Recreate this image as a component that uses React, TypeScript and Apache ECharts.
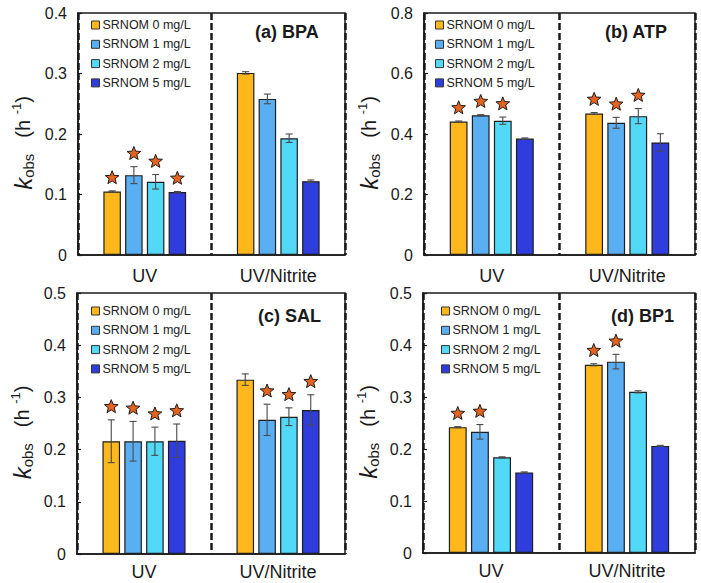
import React, { useEffect, useRef } from "react";
import * as echarts from "echarts";

const categories = ["UV", "UV/Nitrite"];
const seriesNames = ["SRNOM 0 mg/L", "SRNOM 1 mg/L", "SRNOM 2 mg/L", "SRNOM 5 mg/L"];
const colors = ["#FFB81C", "#5AAFF2", "#52D9F8", "#2E3DDB"];

// values[series][category]
const bpaValues = [[0.105, 0.301], [0.132, 0.258], [0.121, 0.193], [0.104, 0.122]];
const bpaErrors = [[0.001, 0.002], [0.014, 0.008], [0.012, 0.007], [0.001, 0.002]];
const bpaStars = [[1, 0], [1, 0], [1, 0], [1, 0]];

const atpValues = [[0.441, 0.468], [0.462, 0.437], [0.444, 0.459], [0.385, 0.372]];
const atpErrors = [[0.002, 0.003], [0.002, 0.018], [0.012, 0.025], [0.002, 0.029]];
const atpStars = [[1, 1], [1, 1], [1, 1], [0, 0]];

const salValues = [[0.216, 0.334], [0.216, 0.257], [0.216, 0.263], [0.217, 0.276]];
const salErrors = [[0.041, 0.011], [0.038, 0.030], [0.027, 0.017], [0.032, 0.029]];
const salStars = [[1, 0], [1, 1], [1, 1], [1, 1]];

const bp1Values = [[0.242, 0.362], [0.233, 0.368], [0.184, 0.310], [0.155, 0.206]];
const bp1Errors = [[0.001, 0.002], [0.014, 0.014], [0.001, 0.002], [0.001, 0.001]];
const bp1Stars = [[1, 1], [1, 1], [0, 0], [0, 0]];

const panelTitles = ["(a) BPA", "(b) ATP", "(c) SAL", "(d) BP1"];
const yMax = [0.4, 0.8, 0.5, 0.5];
const yStep = [0.1, 0.2, 0.1, 0.1];

const panels = [
  { values: bpaValues, errors: bpaErrors, stars: bpaStars },
  { values: atpValues, errors: atpErrors, stars: atpStars },
  { values: salValues, errors: salErrors, stars: salStars },
  { values: bp1Values, errors: bp1Errors, stars: bp1Stars },
];

const FONT = "'Liberation Sans', Arial, sans-serif";
const CAT_GAP = 0.38;
const BAR_GAP = 0.24;

const grids = [
  { left: 78, top: 13, width: 267, height: 242 },
  { left: 424, top: 13, width: 271, height: 242 },
  { left: 77, top: 293, width: 268, height: 261 },
  { left: 423, top: 293, width: 272, height: 260 },
];
const legendPos = [
  { left: 91, top: 18 },
  { left: 435, top: 18 },
  { left: 91, top: 304 },
  { left: 441, top: 304 },
];
const titlePos = [
  { left: 255, top: 23 },
  { left: 605, top: 23 },
  { left: 258, top: 307 },
  { left: 611, top: 307 },
];

function starPoints(cx: number, cy: number, R: number, r: number) {
  const pts: number[][] = [];
  for (let i = 0; i < 10; i++) {
    const rad = i % 2 === 0 ? R : r;
    const a = -Math.PI / 2 + (i * Math.PI) / 5;
    pts.push([cx + rad * Math.cos(a), cy + rad * Math.sin(a)]);
  }
  return pts;
}

function makeRender(si: number) {
  return (params: any, api: any) => {
    const ci = api.value(0);
    const v = api.value(1);
    const e = api.value(2);
    const s = api.value(3);
    const band = api.size([1, 0])[0];
    const gw = band * (1 - CAT_GAP);
    const n = 4;
    const bw = gw / (n + (n - 1) * BAR_GAP);
    const cx = api.coord([ci, 0])[0] - gw / 2 + bw / 2 + si * bw * (1 + BAR_GAP);
    const yt = api.coord([ci, v + e])[1];
    const yb = api.coord([ci, v - e])[1];
    const cap = 3.5;
    const st = { stroke: "#4a4a4a", lineWidth: 1.1 };
    const children: any[] = [
      { type: "line", shape: { x1: cx, y1: yt, x2: cx, y2: yb }, style: st },
      { type: "line", shape: { x1: cx - cap, y1: yt, x2: cx + cap, y2: yt }, style: st },
      { type: "line", shape: { x1: cx - cap, y1: yb, x2: cx + cap, y2: yb }, style: st },
    ];
    if (s) {
      children.push({
        type: "polygon",
        shape: { points: starPoints(cx, yt - 13, 7.2, 3.1) },
        style: { fill: "#E5621F", stroke: "#1e1e1e", lineWidth: 1 },
      });
    }
    return { type: "group", children };
  };
}

function buildOption() {
  const series: any[] = [];
  panels.forEach((p, pi) => {
    for (let si = 0; si < 4; si++) {
      series.push({
        type: "bar",
        name: seriesNames[si],
        xAxisIndex: pi,
        yAxisIndex: pi,
        data: p.values[si],
        barCategoryGap: `${CAT_GAP * 100}%`,
        barGap: `${BAR_GAP * 100}%`,
        itemStyle: { color: colors[si], borderColor: "#1e1e1e", borderWidth: 1.2 },
      });
    }
    for (let si = 0; si < 4; si++) {
      series.push({
        type: "custom",
        xAxisIndex: pi,
        yAxisIndex: pi,
        clip: false,
        z: 5,
        renderItem: makeRender(si),
        encode: { x: 0, y: 1 },
        data: categories.map((_, ci) => [ci, p.values[si][ci], p.errors[si][ci], p.stars[si][ci]]),
      });
    }
  });

  const yName = "{k|k}{s|obs}{g|}{p|(h }{u|-1}{p|)}";
  const yRich = {
    k: { fontSize: 24, fontStyle: "italic", fontFamily: FONT, color: "#1a1a1a", verticalAlign: "middle" },
    s: { fontSize: 15, fontFamily: FONT, color: "#1a1a1a", verticalAlign: "bottom", padding: [11, 0, 0, 0] },
    g: { width: 16 },
    p: { fontSize: 20, fontFamily: FONT, color: "#1a1a1a", verticalAlign: "middle" },
    u: { fontSize: 13, fontFamily: FONT, color: "#1a1a1a", verticalAlign: "top", padding: [0, 0, 11, 0] },
  };

  return {
    animation: false,
    backgroundColor: "#ffffff",
    textStyle: { fontFamily: FONT },
    title: panelTitles.map((t, i) => ({
      text: t,
      left: titlePos[i].left,
      top: titlePos[i].top,
      padding: 0,
      textStyle: { fontSize: 18, fontWeight: "bold", fontFamily: FONT, color: "#1a1a1a" },
    })),
    legend: legendPos.map((lp) => ({
      data: seriesNames,
      orient: "vertical",
      left: lp.left,
      top: lp.top,
      padding: 0,
      itemGap: 5.3,
      itemWidth: 8,
      itemHeight: 8,
      icon: "rect",
      selectedMode: false,
      itemStyle: { borderColor: "#333", borderWidth: 1 },
      textStyle: { fontSize: 12.5, fontFamily: FONT, color: "#222", lineHeight: 14, padding: [0, 0, 0, -2] },
    })),
    grid: grids.map((g) => ({ ...g, show: true, borderColor: "#1a1a1a", borderWidth: 1.5, backgroundColor: "transparent" })),
    xAxis: grids.map((_, i) => ({
      type: "category",
      gridIndex: i,
      data: categories,
      axisLine: { lineStyle: { color: "#1a1a1a", width: 1.5 } },
      axisTick: { show: false },
      axisLabel: { fontSize: 18, fontFamily: FONT, color: "#1a1a1a", margin: i < 2 ? 12 : 9 },
      splitLine: { show: true, lineStyle: { type: [7, 3], color: "#1a1a1a", width: 2.5 } },
    })),
    yAxis: grids.map((_, i) => ({
      type: "value",
      gridIndex: i,
      min: 0,
      max: yMax[i],
      interval: yStep[i],
      name: yName,
      nameLocation: "middle",
      nameGap: 42,
      nameTextStyle: { rich: yRich, fontFamily: FONT, padding: [0, 18, 0, 0] },
      axisLine: { show: true, lineStyle: { color: "#1a1a1a", width: 1.5 } },
      axisTick: { show: true, inside: true, length: 4, lineStyle: { color: "#1a1a1a", width: 1.2 } },
      splitLine: { show: false },
      axisLabel: { fontSize: 16, fontFamily: FONT, color: "#1a1a1a", margin: 11 },
    })),
    series,
  };
}

export default function App() {
  const ref = useRef<HTMLDivElement>(null);
  useEffect(() => {
    document.body.style.margin = "0";
    if (!ref.current) return;
    const chart = echarts.init(ref.current, null, { renderer: "svg" });
    chart.setOption(buildOption() as any);
    return () => chart.dispose();
  }, []);
  return <div ref={ref} style={{ width: 701, height: 583 }} />;
}
